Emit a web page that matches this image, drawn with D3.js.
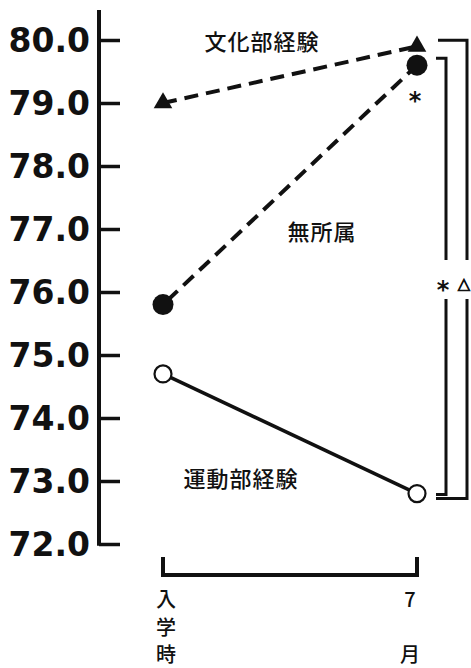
<!DOCTYPE html>
<html>
<head>
<meta charset="utf-8">
<script src="https://cdn.jsdelivr.net/npm/d3@7"></script>
<style>
  html, body { margin: 0; padding: 0; background: #fff; }
  svg { display: block; }
</style>
</head>
<body>
<svg id="chart" width="471" height="668"></svg>
<script>
// Time points on the x axis
const periods = ["入学時", "7月"];
// Mean scores per group at each time point
const bunkaValues = [79.0, 79.9];     // 文化部経験
const mushozokuValues = [75.8, 79.6]; // 無所属
const undoValues = [74.7, 72.8];      // 運動部経験
// Y axis ticks
const yTicks = [72, 73, 74, 75, 76, 77, 78, 79, 80];
const groupNames = ["文化部経験", "無所属", "運動部経験"];

const svg = d3.select("#chart");
const ink = "#111";

const y = d3.scaleLinear().domain([72, 80]).range([544, 40]);
const x = d3.scalePoint().domain(periods).range([163, 417]).padding(0);

// Y axis: ticks pointing into the plot, labels on the left
const axis = d3.axisLeft(y)
  .tickValues(yTicks)
  .tickFormat(d3.format(".1f"))
  .tickSizeInner(-21)
  .tickSizeOuter(0)
  .tickPadding(9);

const gAxis = svg.append("g").attr("transform", "translate(99,0)").call(axis);
gAxis.select(".domain").remove();
gAxis.selectAll(".tick line").attr("stroke", ink).attr("stroke-width", 3.5);
gAxis.selectAll(".tick text")
  .attr("fill", ink)
  .style("font-family", "'DejaVu Sans', sans-serif")
  .style("font-weight", "bold")
  .style("font-size", "33px")
  .attr("dy", "0.36em");
svg.append("line")
  .attr("x1", 99).attr("x2", 99)
  .attr("y1", 10).attr("y2", y(72) + 1.75)
  .attr("stroke", ink).attr("stroke-width", 4);

// Series lines
const line = d3.line().x((d, i) => x(periods[i])).y(d => y(d));
svg.append("path").datum(bunkaValues).attr("d", line)
  .attr("fill", "none").attr("stroke", ink).attr("stroke-width", 4)
  .attr("stroke-dasharray", "14 8");
svg.append("path").datum(mushozokuValues).attr("d", line)
  .attr("fill", "none").attr("stroke", ink).attr("stroke-width", 4)
  .attr("stroke-dasharray", "14 8").attr("stroke-dashoffset", -6);
svg.append("path").datum(undoValues).attr("d", line)
  .attr("fill", "none").attr("stroke", ink).attr("stroke-width", 3.5);

// Markers
const tri = d3.symbol().type(d3.symbolTriangle).size(150);
svg.selectAll(".tri").data(bunkaValues).join("path")
  .attr("d", tri)
  .attr("transform", (d, i) => `translate(${x(periods[i])},${y(d)})`)
  .attr("fill", ink);
svg.selectAll(".dot").data(mushozokuValues).join("circle")
  .attr("cx", (d, i) => x(periods[i])).attr("cy", d => y(d))
  .attr("r", 10.5).attr("fill", ink);
svg.selectAll(".ring").data(undoValues).join("circle")
  .attr("cx", (d, i) => x(periods[i])).attr("cy", d => y(d))
  .attr("r", 8.5).attr("fill", "#fff").attr("stroke", ink).attr("stroke-width", 2.2);

// Group labels
const labelStyle = sel => sel
  .attr("fill", ink)
  .attr("text-anchor", "middle")
  .attr("dominant-baseline", "central")
  .style("font-family", "'Noto Sans CJK JP', sans-serif")
  .style("font-weight", "500")
  .style("font-size", "22px")
  .style("letter-spacing", "1px");
svg.append("text").attr("x", 262).attr("y", 40).text(groupNames[0]).call(labelStyle);
svg.append("text").attr("x", 322).attr("y", 230).text(groupNames[1]).call(labelStyle);
svg.append("text").attr("x", 241).attr("y", 477).text(groupNames[2]).call(labelStyle);

// Asterisk style for significance marks
const starStyle = sel => sel
  .attr("text-anchor", "middle").attr("fill", ink)
  .style("font-family", "'DejaVu Sans', sans-serif").style("font-weight", "bold")
  .style("font-size", "24px");

// Significance mark under the 7月 no-club point
svg.append("text").attr("x", x(periods[1]) - 2).attr("y", y(mushozokuValues[1]) + 44)
  .text("*").call(starStyle);

// Brackets comparing groups at 7月
const bx = x(periods[1]);
const inner = { top: y(mushozokuValues[1]) - 7, bottom: y(undoValues[1]) + 1, left: bx + 19, right: bx + 29 };
const outer = { top: y(bunkaValues[1]) - 6, bottom: y(undoValues[1]) + 5, left: bx + 21, right: bx + 50 };
const gapTop = 260, gapBottom = 299;
function bracket(b, leftBottom) {
  svg.append("path")
    .attr("d", `M${b.left},${b.top}H${b.right}V${gapTop}M${b.right},${gapBottom}V${b.bottom}H${leftBottom}`)
    .attr("fill", "none").attr("stroke", ink).attr("stroke-width", 3);
}
bracket(inner, bx + 19);
bracket(outer, bx + 19);
svg.append("text").attr("x", inner.right - 3).attr("y", 298).text("*").call(starStyle);
svg.append("text").attr("x", outer.right - 3).attr("y", 289)
  .attr("text-anchor", "middle").attr("fill", ink)
  .attr("stroke", ink).attr("stroke-width", 0.8)
  .style("font-family", "'DejaVu Sans', sans-serif").style("font-weight", "bold")
  .style("font-size", "16px").text("△");

// Bracket spanning the two time points
svg.append("path")
  .attr("d", `M${x(periods[0])},557V575H${x(periods[1])}V557`)
  .attr("fill", "none").attr("stroke", ink).attr("stroke-width", 4);

// Vertical time-point labels
const xLabelStyle = sel => sel
  .attr("fill", ink).attr("text-anchor", "middle").attr("dominant-baseline", "central")
  .style("font-family", "'Noto Sans CJK JP', sans-serif")
  .style("font-weight", "500").style("font-size", "20px");
const col = [
  { x: x(periods[0]) + 3, chars: Array.from(periods[0]), ys: [598, 626, 653] },
  { x: x(periods[1]) - 7, chars: Array.from(periods[1]), ys: [598, 653] }
];
col.forEach(c => {
  c.chars.forEach((ch, i) => {
    svg.append("text").attr("x", c.x).attr("y", c.ys[i]).text(ch).call(xLabelStyle);
  });
});
</script>
</body>
</html>
